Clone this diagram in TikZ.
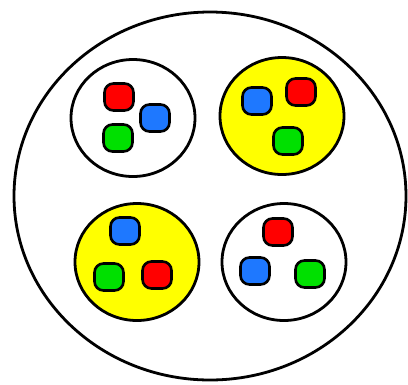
\documentclass[tikz,border=0pt]{standalone}
\usepackage{tikz}
\usetikzlibrary{shapes.geometric}
\definecolor{dotred}{HTML}{FF0000}
\definecolor{dotblue}{HTML}{1E78FF}
\definecolor{dotgreen}{HTML}{00E000}
\definecolor{setyellow}{HTML}{FFFF00}

\begin{document}
\begin{tikzpicture}[
  x=1pt, y=-1pt,
  whole/.style={
    ellipse,
    draw=black,
    fill=white,
    line width=2.8pt,
    minimum width=392pt,
    minimum height=368pt,
    inner sep=0pt
  },
  plainset/.style={
    ellipse,
    draw=black,
    fill=white,
    line width=2.8pt,
    minimum width=124pt,
    minimum height=117pt,
    inner sep=0pt
  },
  yellowset/.style={
    plainset,
    fill=setyellow
  },
  token/.style={
    rectangle,
    rounded corners=9pt,
    draw=black,
    line width=2.6pt,
    minimum width=29pt,
    minimum height=27pt,
    inner sep=0pt
  }
]
  \useasboundingbox[fill=white] (0,0) rectangle (408,384);

  % --- Outer set ---
  \node[whole] (all) at (210,196) {};

  % --- Top left: white set ---
  \node[plainset] (setA) at (133,118) {};
  \node[token, fill=dotred]   (aR) at (119,97)  {};
  \node[token, fill=dotblue]  (aB) at (155,118) {};
  \node[token, fill=dotgreen] (aG) at (118,138) {};

  % --- Top right: yellow set ---
  \node[yellowset] (setB) at (282,116) {};
  \node[token, fill=dotblue]  (bB) at (257,101) {};
  \node[token, fill=dotred]   (bR) at (301,92)  {};
  \node[token, fill=dotgreen] (bG) at (288,141) {};

  % --- Bottom left: yellow set ---
  \node[yellowset] (setC) at (137,262) {};
  \node[token, fill=dotblue]  (cB) at (125,231) {};
  \node[token, fill=dotgreen] (cG) at (109,277) {};
  \node[token, fill=dotred]   (cR) at (157,275) {};

  % --- Bottom right: white set ---
  \node[plainset] (setD) at (284,262) {};
  \node[token, fill=dotred]   (dR) at (278,232) {};
  \node[token, fill=dotblue]  (dB) at (255,271) {};
  \node[token, fill=dotgreen] (dG) at (310,274) {};

\end{tikzpicture}
\end{document}
